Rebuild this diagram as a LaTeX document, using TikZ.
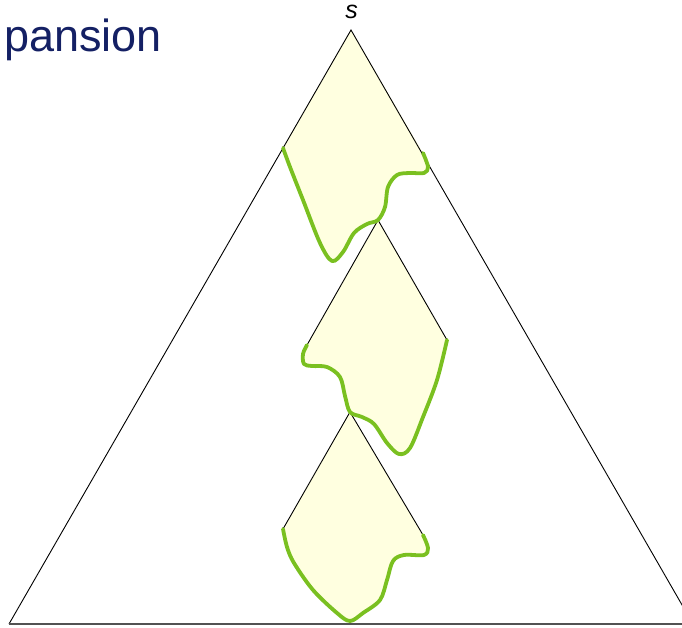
\documentclass[tikz,border=0pt]{standalone}
\usepackage{fontspec}
\setmainfont{Liberation Sans}
\usepackage{xcolor}
\usepackage{tikz}
\definecolor{titleblue}{RGB}{20,32,100}
\definecolor{conefill}{RGB}{255,255,224}
\definecolor{frontgreen}{RGB}{122,192,32}

\begin{document}
\begin{tikzpicture}[
  x=1pt, y=-1pt,
  cone/.style={fill=conefill},
  side/.style={draw=black, line width=0.9pt},
  base/.style={draw=black!68, line width=2.6pt},
  front/.style={draw=frontgreen, line width=3.8pt, line cap=round, line join=round},
  slabel/.style={font=\fontsize{25}{30}\selectfont\itshape, inner sep=0pt, anchor=base}
]

\useasboundingbox (0,0) rectangle (682,628);
\clip (0,0) rectangle (682,628);

\def\frontA{(283,148) (290,167) (303,200) (320,243) (332,261) (343,252) (354,233) (367,224) (378,220) (385,207) (388,187) (397,175) (410,173) (424,173) (428,167) (423,153)}
\def\frontB{(307,345) (303,354) (304,364) (312,366) (327,367) (340,377) (345,396) (350,412) (362,417) (374,424) (387,443) (399,454) (410,448) (423,417) (437,380) (447,340)}
\def\frontC{(283,529) (287,547) (294,563) (313,590) (337,613) (350,621) (363,613) (380,600) (387,580) (393,561) (404,555) (424,555) (428,548) (423,535)}

% title and root label
\node[anchor=base west, inner sep=0pt, text=titleblue, font=\fontsize{45}{52}\selectfont] (title) at (4,52) {pansion};
\coordinate (s) at (351,30);
\node[slabel] (root) at (351.5,18.5) {s};

% big triangle corners
\coordinate (bl) at (9,624);
\coordinate (br) at (693,624);

% cone apexes and side ends
\coordinate (a1) at (351,30);  \coordinate (l1) at (283,148); \coordinate (r1) at (423,153);
\coordinate (a2) at (378,220); \coordinate (l2) at (307,345); \coordinate (r2) at (447,340);
\coordinate (a3) at (350,412); \coordinate (l3) at (283,529); \coordinate (r3) at (423,535);

% filled regions
\fill[cone] (a1) -- plot[smooth, tension=0.55] coordinates {\frontA} -- cycle;
\fill[cone] (a2) -- plot[smooth, tension=0.55] coordinates {\frontB} -- cycle;
\fill[cone] (a3) -- plot[smooth, tension=0.55] coordinates {\frontC} -- cycle;

% search space
\draw[side] (bl) -- (s) -- (br);
\draw[base] (bl) -- (br);

\draw[side] (l2) -- (a2) -- (r2);
\draw[side] (l3) -- (a3) -- (r3);

% frontiers
\draw[front] plot[smooth, tension=0.55] coordinates {\frontA};
\draw[front] plot[smooth, tension=0.55] coordinates {\frontB};
\draw[front] plot[smooth, tension=0.55] coordinates {\frontC};

\end{tikzpicture}
\end{document}
